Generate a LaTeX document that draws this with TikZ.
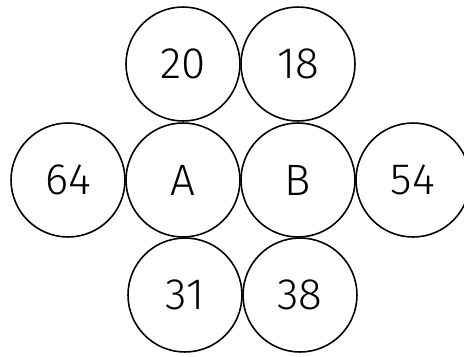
\documentclass[tikz,border=0pt]{standalone}
\usepackage{fontspec}
\setmainfont{Fira Sans}[UprightFont={* Light}]
\begin{document}
\begin{tikzpicture}[x=0.02cm, y=-0.02cm,
                    every node/.style={draw, line width=0.9pt, circle, inner sep=0pt, minimum size=2.28cm, font=\fontsize{25}{25}\selectfont}
                    ]
                    \useasboundingbox (0,0) rectangle (464,356);
                    \node (20) at (183,64) {20};
                    \node (18) at (298,64) {18};
                    \node (64) at (68,180) {64};
                    \node (A) at (183,180) {A};
                    \node (B) at (298,180) {B};
                    \node (54) at (413,180) {54};
                    \node (31) at (185,295) {31};
                    \node (38) at (300,295) {38};
                \end{tikzpicture}
\end{document}
